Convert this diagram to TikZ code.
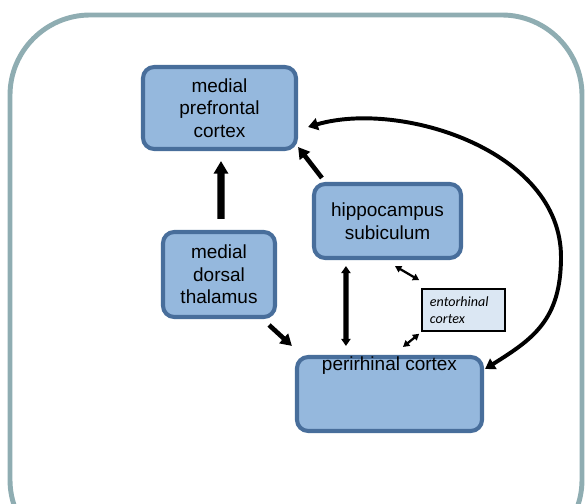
\documentclass[tikz,border=0pt]{standalone}
\usepackage{fontspec}
\setmainfont{Liberation Sans}
\newfontfamily\entfont{Carlito}
\definecolor{boxblue}{RGB}{149,184,221}
\definecolor{boxedge}{RGB}{72,110,155}
\definecolor{framegray}{RGB}{143,173,178}
\definecolor{entblue}{RGB}{219,231,243}
\usetikzlibrary{arrows.meta,calc}

\begin{document}
\begin{tikzpicture}[x=0.025cm, y=-0.025cm,
      region/.style={rectangle, rounded corners=8pt, draw=boxedge, fill=boxblue,
        line width=2.9pt, align=center, font=\fontsize{13.5}{16}\selectfont},
      thickarr/.style={-{Triangle[length=9pt,width=10pt]}, line width=5pt},
      medarr/.style={-{Triangle[length=8pt,width=9pt]}, line width=3.3pt},
      dblarr/.style={{Triangle[length=5pt,width=6.5pt]}-{Triangle[length=5pt,width=6.5pt]}, line width=3.8pt},
      curvarr/.style={{Triangle[length=7pt,width=8.5pt]}-{Triangle[length=7pt,width=8.5pt]}, line width=2.8pt},
      thinarr/.style={{Triangle[length=4.5pt,width=5pt]}-{Triangle[length=4.5pt,width=5pt]}, line width=1.6pt}
    ]
      \useasboundingbox (0,0) rectangle (587,504);
      \clip (0,0) rectangle (587,504);
      \draw[framegray, line width=3.5pt, rounded corners=57pt] (10,15) rectangle (582,560);

      % brain regions
      \node[region, minimum width=3.825cm, minimum height=2.05cm] (mpfc) at (219.5,108)
        {medial\\prefrontal\\cortex};
      \node[region, minimum width=2.8cm, minimum height=2.125cm] (mdt) at (219,274.5)
        {medial\\dorsal\\thalamus};
      \node[region, minimum width=3.675cm, minimum height=1.85cm] (hip) at (387.5,221)
        {hippocampus\\subiculum};
      \node[region, minimum width=4.625cm, minimum height=1.85cm,
        label={[anchor=north, inner sep=1pt, font=\fontsize{13.5}{16}\selectfont]north:perirhinal cortex}]
        (prc) at (389.5,394) {};
      \node[draw=black, fill=entblue, line width=1.1pt, text width=1.675cm, inner xsep=0.2cm,
        minimum height=1.05cm, align=left, font=\entfont\itshape\fontsize{10}{12}\selectfont]
        (ent) at (463.5,310) {entorhinal\\cortex};

      % connections
      \coordinate (arcR) at (561,257);
      \draw[thickarr] ($(mdt.north)+(2,-11)$) -- ($(mpfc.south)+(1.5,10)$);
      \draw[medarr] ($(hip.north west)+(10,-4)$) -- ($(mpfc.south east)+(0,-4)$);
      \draw[medarr] ($(mdt.south east)+(-8,6)$) -- ($(prc.north west)+(-3,-9)$);
      \draw[dblarr] ($(hip.south west)+(34,6)$) -- ($(prc.north west)+(51,-9)$);
      \draw[thinarr] ($(hip.south)+(7.5,6)$) -- ($(ent.north west)+(-2,-8)$);
      \draw[thinarr] ($(ent.south west)+(-2,2)$) -- ($(prc.north)+(13.5,-8)$);
      \draw[curvarr] ($(mpfc.east)+(10,19)$) .. controls (400,100) and (561,150) .. (arcR)
        .. controls (561,320) and (533,339) .. ($(prc.east)+(1,-25)$);
    \end{tikzpicture}
\end{document}
